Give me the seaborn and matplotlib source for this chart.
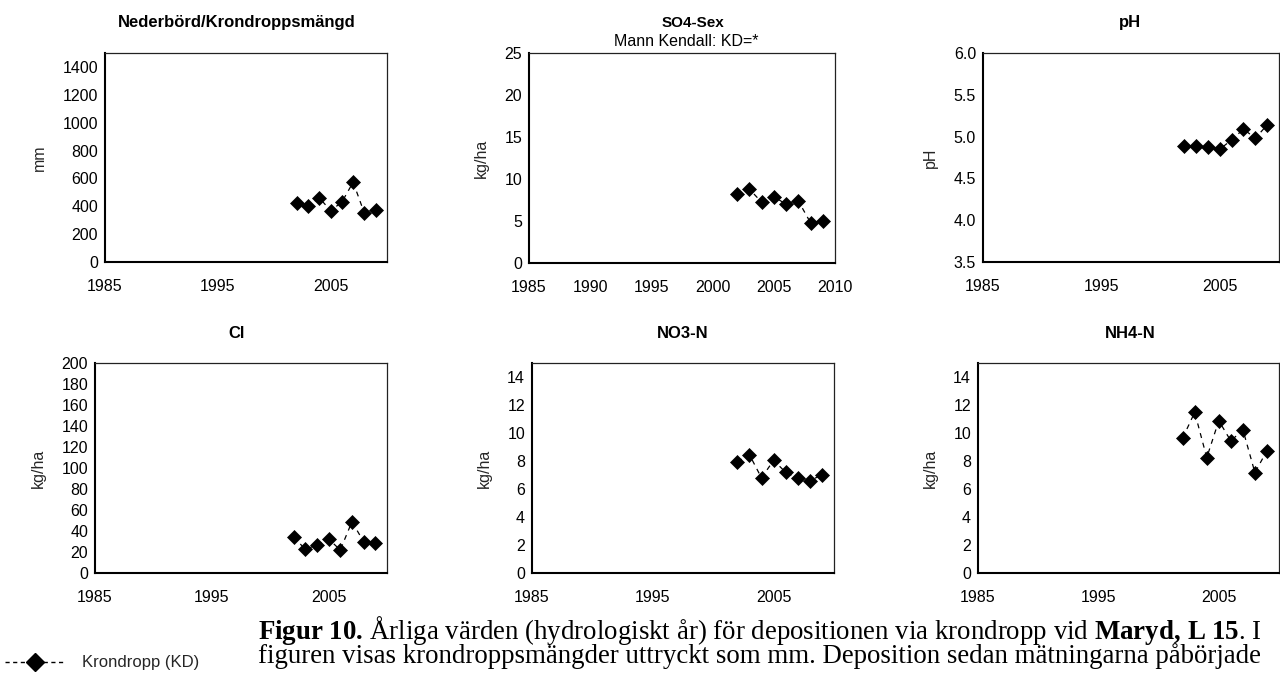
import matplotlib
matplotlib.use("Agg")
import matplotlib.pyplot as plt
import seaborn as sns
import pandas as pd
from matplotlib.lines import Line2D
from matplotlib.ticker import FormatStrFormatter, FixedLocator

# ---------------- data ----------------
years = [2002, 2003, 2004, 2005, 2006, 2007, 2008, 2009]
nederbord = [420, 401, 461, 368, 430, 573, 349, 373]
so4_sex = [8.2, 8.8, 7.25, 7.9, 7.0, 7.4, 4.8, 5.05]
ph = [4.89, 4.89, 4.88, 4.85, 4.96, 5.09, 4.98, 5.14]
cl = [34.6, 22.5, 26.7, 32.4, 21.9, 48.9, 29.8, 28.9]
no3_n = [7.95, 8.45, 6.79, 8.05, 7.19, 6.76, 6.6, 7.0]
nh4_n = [9.64, 11.48, 8.24, 10.88, 9.43, 10.24, 7.17, 8.74]

titles = ["Nederbörd/Krondroppsmängd", "SO4-Sex", "pH", "Cl", "NO3-N", "NH4-N"]
subtitle_so4 = "Mann Kendall: KD=*"
ylabels = ["mm", "kg/ha", "pH", "kg/ha", "kg/ha", "kg/ha"]
series = [nederbord, so4_sex, ph, cl, no3_n, nh4_n]
legend_label = "Krondropp (KD)"

caption_line1 = (r"$\mathbf{Figur\ 10.\,}$Årliga värden (hydrologiskt år) för depositionen "
                 r"via krondropp vid $\mathbf{Maryd,\,L\ 15}$. I")
caption_line2 = "figuren visas krondroppsmängder uttryckt som mm. Deposition sedan mätningarna påbörjade"

# ---------------- layout ----------------
W, H = 1280, 675
sns.set_theme(style="white")
plt.rcParams["font.family"] = ["Liberation Sans", "DejaVu Sans"]
plt.rcParams["mathtext.fontset"] = "custom"
plt.rcParams["mathtext.rm"] = "Liberation Serif"
plt.rcParams["mathtext.it"] = "Liberation Serif:italic"
plt.rcParams["mathtext.bf"] = "Liberation Serif:bold"

fig = plt.figure(figsize=(W / 100, H / 100), dpi=100)

# (left, right, top, bottom) in pixels
boxes = [(105, 387, 53, 262), (529, 835, 53, 263), (983, 1279, 53, 262),
         (95, 387, 363, 573), (532, 834, 363, 573), (978, 1279, 363, 573)]
ylims = [(0, 1500), (0, 25), (3.5, 6.0), (0, 200), (0, 15), (0, 15)]
yticks = [list(range(0, 1401, 200)), list(range(0, 26, 5)),
          [3.5, 4.0, 4.5, 5.0, 5.5, 6.0], list(range(0, 201, 20)),
          list(range(0, 15, 2)), list(range(0, 15, 2))]
xticks = [[1985, 1995, 2005], list(range(1985, 2011, 5)), [1985, 1995, 2005],
          [1985, 1995, 2005], [1985, 1995, 2005], [1985, 1995, 2005]]
title_x = [237, 693, 1130, 237, 683, 1130]

for i, (l, r, t, b) in enumerate(boxes):
    ax = fig.add_axes([l / W, 1 - b / H, (r - l) / W, (b - t) / H])
    df = pd.DataFrame({"year": years, "value": series[i]})
    sns.lineplot(data=df, x="year", y="value", ax=ax, color="black",
                 linestyle=(0, (4, 4)), linewidth=0.9, marker="D", markersize=6.8,
                 markeredgecolor="black", markerfacecolor="black", markeredgewidth=0.5)
    ax.set_xlim(1985, 2010)
    ax.set_ylim(*ylims[i])
    ax.yaxis.set_major_locator(FixedLocator(yticks[i]))
    ax.xaxis.set_major_locator(FixedLocator(xticks[i]))
    if i == 2:
        ax.yaxis.set_major_formatter(FormatStrFormatter("%.1f"))
    ax.set_xlabel("")
    ax.set_ylabel(ylabels[i], fontsize=11.5, labelpad=11)
    ax.tick_params(axis="both", direction="in", length=4, width=1, color="black",
                   labelsize=11.5, labelcolor="black")
    ax.tick_params(axis="x", pad=12)
    ax.tick_params(axis="y", pad=5)
    for s in ["left", "bottom"]:
        ax.spines[s].set_linewidth(1.5)
        ax.spines[s].set_color("black")
    for s in ["top", "right"]:
        ax.spines[s].set_linewidth(0.9)
        ax.spines[s].set_color("#222222")
    ax.set_facecolor("white")
    if i == 1:
        fig.text(title_x[i] / W, 1 - 23 / H, titles[i], ha="center", va="center",
                 fontsize=11, fontweight="bold", color="black")
        fig.text(686 / W, 1 - 41 / H, subtitle_so4, ha="center", va="center",
                 fontsize=11.5, color="black")
    else:
        fig.text(title_x[i] / W, 1 - (t - 30) / H, titles[i], ha="center", va="center",
                 fontsize=12, fontweight="bold", color="black")

# legend
handle = Line2D([], [], color="black", linestyle=(0, (3, 2.5)), linewidth=1.0,
                marker="D", markersize=9, markerfacecolor="black", markeredgecolor="black")
fig.legend(handles=[handle], labels=[legend_label], loc="center left",
           bbox_to_anchor=(0 / W, 1 - 663 / H), frameon=False, fontsize=12,
           handlelength=3.6, handletextpad=1.0, borderaxespad=0, borderpad=0.3)

# caption: one two-line text block
fig.text(258 / W, 1 - 663 / H, caption_line1 + "\n" + caption_line2,
         ha="left", va="baseline", multialignment="left",
         fontsize=19.4, family=["Liberation Serif", "DejaVu Serif"],
         color="black", linespacing=0.82)

fig.savefig("out.png", dpi=100, facecolor="white")
